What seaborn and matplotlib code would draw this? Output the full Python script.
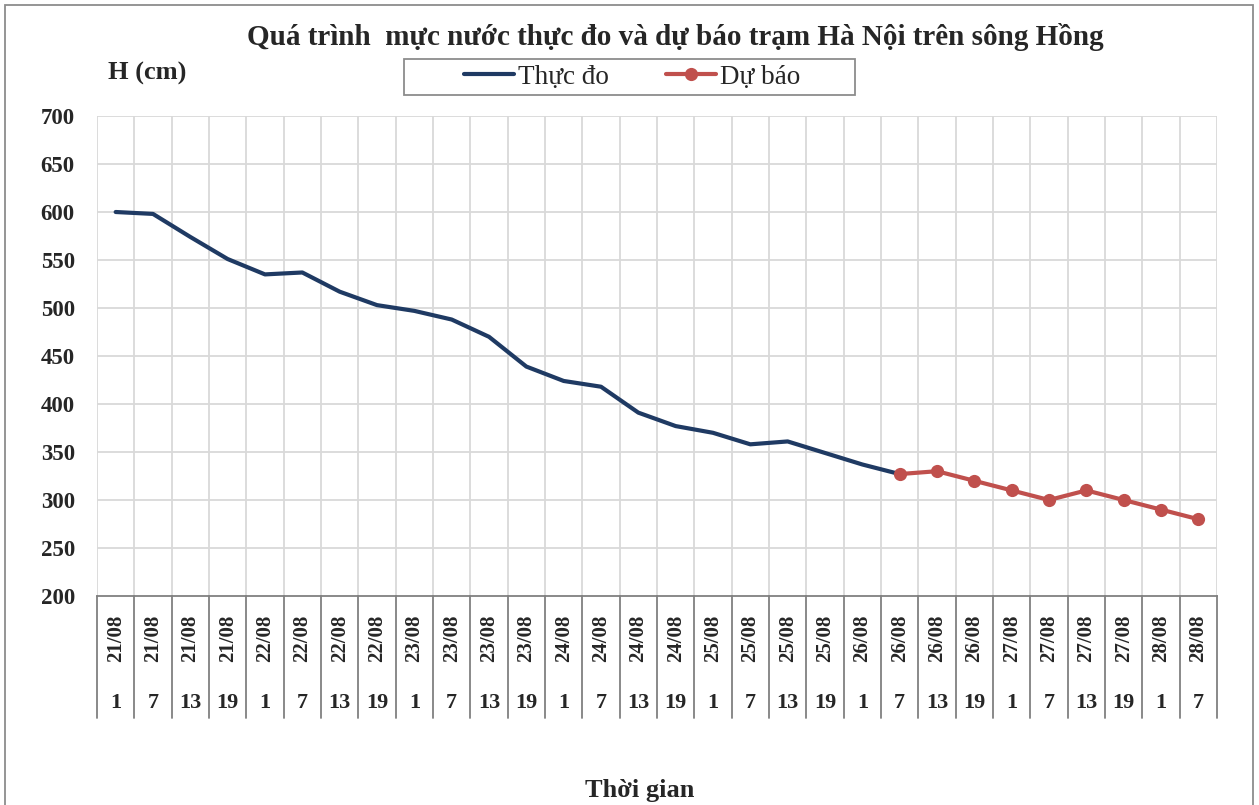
import matplotlib
matplotlib.use("Agg")
import matplotlib.pyplot as plt
import matplotlib.patches as mpatches
import matplotlib.transforms as mtransforms
from matplotlib.lines import Line2D
import seaborn as sns
import pandas as pd
import numpy as np

# ---- data ----
dates = ["21/08"] * 4 + ["22/08"] * 4 + ["23/08"] * 4 + ["24/08"] * 4 + \
        ["25/08"] * 4 + ["26/08"] * 4 + ["27/08"] * 4 + ["28/08"] * 2
hours = ["1", "7", "13", "19"] * 7 + ["1", "7"]

observed = [600, 598, 574, 551, 535, 537, 517, 503, 497, 488, 470, 439,
            424, 418, 391, 377, 370, 358, 361, 349, 337, 327]
forecast = [327, 330, 320, 310, 300, 310, 300, 290, 280]
forecast_start = 21

title = "Quá trình  mực nước thực đo và dự báo trạm Hà Nội trên sông Hồng"
ylabel = "H (cm)"
xlabel = "Thời gian"
series_names = ["Thực đo", "Dự báo"]
yticks = [200, 250, 300, 350, 400, 450, 500, 550, 600, 650, 700]

obs_color = "#1F3A63"
fc_color = "#C0504D"

sns.set_theme(style="white")
plt.rcParams["font.family"] = ["Liberation Serif", "DejaVu Serif"]

W, H = 1259, 805
fig = plt.figure(figsize=(W / 100, H / 100), dpi=100)
ax = fig.add_axes([97 / W, 1 - 596 / H, (1217 - 97) / W, (596 - 116) / H])

n = len(dates)
df_obs = pd.DataFrame({"x": np.arange(len(observed)), "H": observed})
df_fc = pd.DataFrame({"x": np.arange(forecast_start, forecast_start + len(forecast)), "H": forecast})

sns.lineplot(data=df_obs, x="x", y="H", ax=ax, color=obs_color, linewidth=3.0, zorder=3)
sns.lineplot(data=df_fc, x="x", y="H", ax=ax, color=fc_color, linewidth=3.0,
             marker="o", markersize=9.5, markeredgewidth=0, zorder=4)

ax.set_xlim(-0.5, n - 0.5)
ax.set_ylim(200, 700)
ax.set_yticks(yticks)
ax.set_yticklabels([str(v) for v in yticks], fontsize=16.5, fontweight="bold")
ax.tick_params(axis="y", length=0, pad=16)
ax.set_xticks([])
ax.set_xlabel("")
ax.set_ylabel("")

# grid
grid_c = "#D9D9D9"
for v in yticks[1:]:
    ax.axhline(v, color=grid_c, linewidth=1.3, zorder=1)
for k in range(n + 1):
    ax.axvline(k - 0.5, color=grid_c, linewidth=1.3, zorder=1)
for s in ["left", "right", "top"]:
    ax.spines[s].set_visible(False)
ax.spines["bottom"].set_color("#808080")
ax.spines["bottom"].set_linewidth(1.3)

# category table below axis
trans = mtransforms.blended_transform_factory(ax.transData, ax.transAxes)
for k in range(n + 1):
    ax.plot([k - 0.5, k - 0.5], [0, -0.254], transform=trans, color="#808080",
            linewidth=1.3, clip_on=False)
for i in range(n):
    ax.text(i, -0.089, dates[i], transform=trans, rotation=90, ha="center", va="center",
            fontsize=15, fontweight="bold")
    ax.text(i, -0.223, hours[i], transform=trans, ha="center", va="center",
            fontsize=16, fontweight="bold")

# titles
fig.text(675 / W, 1 - 37 / H, title, ha="center", va="center", fontsize=21, fontweight="bold")
fig.text(108 / W, 1 - 73 / H, ylabel, ha="left", va="center", fontsize=19, fontweight="bold")
fig.text(640 / W, 1 - 790 / H, xlabel, ha="center", va="center", fontsize=19, fontweight="bold")

# legend
fig.patches.append(mpatches.Rectangle((404 / W, 1 - 95 / H), (855 - 404) / W, 36 / H,
                                      transform=fig.transFigure, fill=False,
                                      edgecolor="#8C8C8C", linewidth=1.3))
handles = [Line2D([0], [0], color=obs_color, linewidth=3.0),
           Line2D([0], [0], color=fc_color, linewidth=3.0, marker="o", markersize=9.5, markeredgewidth=0)]
leg = fig.legend(handles, series_names, loc="center",
                 bbox_to_anchor=(632 / W, 1 - 77 / H), ncol=2, frameon=False,
                 fontsize=19.5, handlelength=1.85, handletextpad=0.15,
                 columnspacing=2.1, borderpad=0.1)

# figure border
fig.patches.append(mpatches.Rectangle((5 / W, -0.02), (1253 - 5) / W, 1 - 5 / H + 0.02,
                                      transform=fig.transFigure, fill=False,
                                      edgecolor="#8C8C8C", linewidth=1.3))

fig.savefig("out.png", dpi=100)
